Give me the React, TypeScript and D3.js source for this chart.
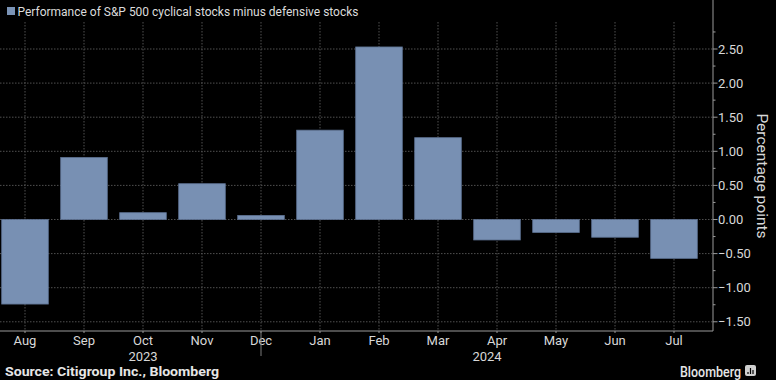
import React from "react";
import * as d3 from "d3";

const months = ["Aug", "Sep", "Oct", "Nov", "Dec", "Jan", "Feb", "Mar", "Apr", "May", "Jun", "Jul"];
const values = [-1.24, 0.91, 0.1, 0.525, 0.06, 1.31, 2.53, 1.2, -0.3, -0.19, -0.26, -0.57];
const yTicks = [-1.5, -1.0, -0.5, 0, 0.5, 1.0, 1.5, 2.0, 2.5];
const yMinorTicks = [-1.25, -0.75, -0.25, 0.25, 0.75, 1.25, 1.75, 2.25, 2.75];
const years = [
  { label: "2023", month: "Oct", dx: 0 },
  { label: "2024", month: "Apr", dx: -10 },
];
const title = "Performance of S&P 500 cyclical stocks minus defensive stocks";
const source = "Source: Citigroup Inc., Bloomberg";

const W = 776;
const H = 380;
const plotTop = 22;
const plotBottom = 331;
const axisX = 713;
const font = "Roboto, 'Noto Sans', sans-serif";

export default function App() {
  const x = d3.scaleBand<string>().domain(months).range([-4.5, 703.5]).paddingInner(0.21).paddingOuter(0.105);
  const y = d3.scaleLinear().domain([-1.635, 2.896]).range([plotBottom, plotTop]);
  const cx = (m: string) => (x(m) as number) + x.bandwidth() / 2;
  const gridColor = "#505050";
  const textColor = "#d8d8d8";

  return (
    <svg width={W} height={H} style={{ position: "absolute", left: 0, top: 0, background: "#000" }}>
      <rect x={0} y={0} width={W} height={H} fill="#000" />
      {/* title */}
      <rect x={7} y={7} width={8} height={8} fill="#7a93b6" />
      <text x={17.5} y={15.5} fill="#dcdcdc" fontFamily={font} fontSize={12.5} textLength={341} lengthAdjust="spacingAndGlyphs">{title}</text>

      {/* horizontal grid */}
      {yTicks.map((t) => (
        <line key={"h" + t} x1={0} x2={axisX} y1={y(t)} y2={y(t)} stroke={gridColor} strokeWidth={1} strokeDasharray="1.5,1.5" />
      ))}
      {/* vertical grid */}
      {months.map((m) => (
        <line key={"v" + m} x1={cx(m)} x2={cx(m)} y1={plotTop} y2={plotBottom} stroke={gridColor} strokeWidth={1} strokeDasharray="1.5,1.5" />
      ))}

      {/* bars */}
      {months.map((m, i) => {
        const v = values[i];
        const y0 = y(0);
        const y1 = y(v);
        return (
          <rect
            key={"b" + m}
            x={x(m)}
            y={Math.min(y0, y1)}
            width={x.bandwidth()}
            height={Math.abs(y1 - y0)}
            fill="#7890b3"
            stroke="#5d7191"
            strokeWidth={0.8}
          />
        );
      })}

      {/* x axis */}
      <line x1={0} x2={axisX} y1={plotBottom} y2={plotBottom} stroke="#9a9a9a" strokeWidth={1} />
      {months.map((m) => (
        <g key={"xt" + m}>
          <line x1={cx(m)} x2={cx(m)} y1={plotBottom} y2={plotBottom + 2} stroke="#9a9a9a" />
          <text x={cx(m)} y={345} textAnchor="middle" fill={textColor} fontFamily={font} fontSize={13}>{m}</text>
        </g>
      ))}
      <line x1={cx("Dec")} x2={cx("Dec")} y1={plotBottom} y2={356} stroke="#7a7a7a" strokeWidth={1} />
      {years.map((yr) => (
        <text key={yr.label} x={cx(yr.month) + yr.dx} y={361} textAnchor="middle" fill={textColor} fontFamily={font} fontSize={13}>{yr.label}</text>
      ))}

      {/* y axis (right) */}
      <line x1={axisX} x2={axisX} y1={0} y2={plotBottom} stroke="#9a9a9a" strokeWidth={1} />
      {yMinorTicks.map((t) => (
        <line key={"mt" + t} x1={axisX} x2={axisX + 2.5} y1={y(t)} y2={y(t)} stroke="#9a9a9a" />
      ))}
      {yTicks.map((t) => (
        <g key={"yt" + t}>
          <line x1={axisX} x2={axisX + 4.5} y1={y(t)} y2={y(t)} stroke="#9a9a9a" />
          <text x={718} y={y(t) + 4.5} fill={textColor} fontFamily={font} fontSize={13}>{d3.format(".2f")(t)}</text>
        </g>
      ))}
      <text
        transform={`translate(757, 176) rotate(90)`}
        textAnchor="middle"
        fill={textColor}
        fontFamily={font}
        fontSize={15.5}
      >
        Percentage points
      </text>

      {/* footer */}
      <text x={5} y={376} fill="#e6e6e6" fontFamily={font} fontSize={12.5} fontWeight="bold" textLength={214} lengthAdjust="spacingAndGlyphs">{source}</text>
      <text x={741} y={377} textAnchor="end" fill="#e6e6e6" fontFamily={font} fontSize={14} fontWeight={500} textLength={61} lengthAdjust="spacingAndGlyphs">Bloomberg</text>
      <rect x={745} y={365} width={11} height={11} rx={2} fill="#cfcfcf" />
      <line x1={748} x2={748} y1={372} y2={374} stroke="#000" strokeWidth={1.2} />
      <line x1={750.5} x2={750.5} y1={368} y2={374} stroke="#000" strokeWidth={1.2} />
      <line x1={753} x2={753} y1={370} y2={374} stroke="#000" strokeWidth={1.2} />
    </svg>
  );
}
